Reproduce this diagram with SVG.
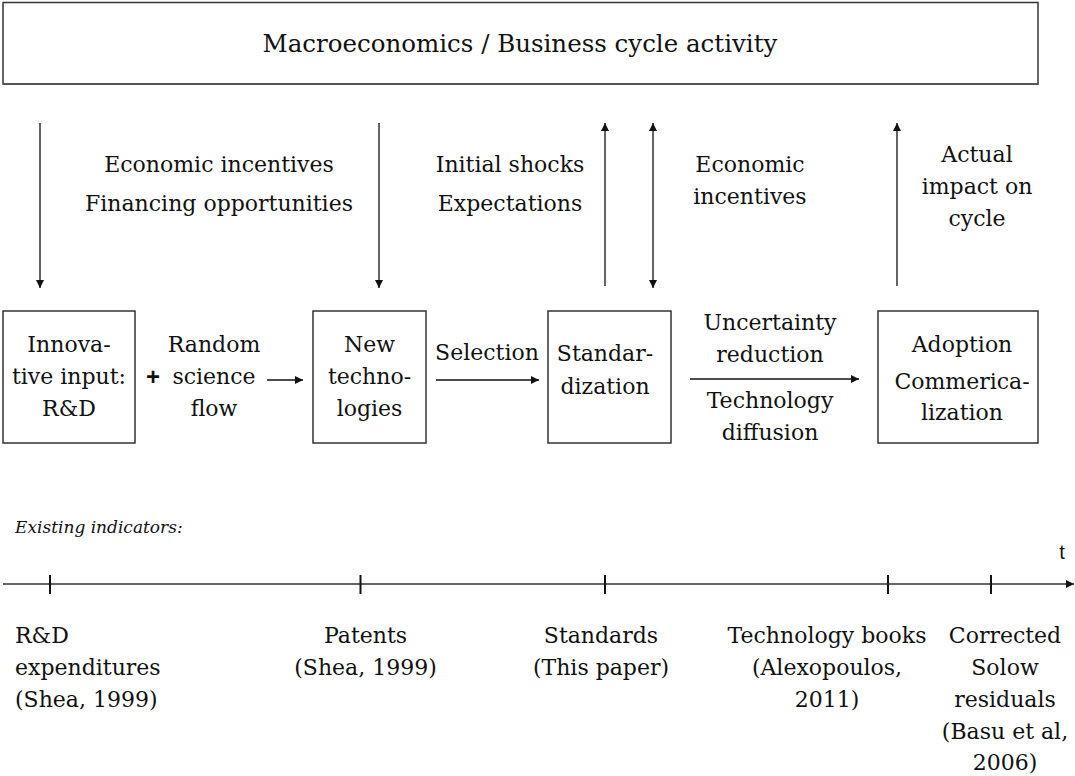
<svg xmlns="http://www.w3.org/2000/svg" width="1075" height="776" viewBox="0 0 1075 776">
<defs>
<style>
text{font-family:"DejaVu Serif","Liberation Serif",serif;font-size:22px;fill:#111;text-anchor:middle}
.t{font-size:24.5px}
.l{text-anchor:start}
.it{font-style:italic;font-size:17px;text-anchor:start}
.sans{font-family:"Liberation Sans",Arial,sans-serif}
.box{fill:#fff;stroke:#333;stroke-width:1.5}
.ln{stroke:#111;stroke-width:1.3;fill:none}
.tick{stroke:#111;stroke-width:2}
</style>
<marker id="ah" viewBox="0 0 10 10" refX="10" refY="5" markerWidth="8" markerHeight="8" markerUnits="userSpaceOnUse" orient="auto-start-reverse">
<path d="M0,0 L10,5 L0,10 z" fill="#111"/>
</marker>
</defs>
<rect width="1075" height="776" fill="#fff"/>
<g id="macro">
<rect class="box" x="3" y="2.5" width="1035" height="81.5"/>
<line x1="3" y1="84" x2="1038" y2="84" stroke="#555" stroke-width="2"/>
<text class="t" x="520" y="52">Macroeconomics / Business cycle activity</text>
</g>
<g id="rd">
<rect class="box" x="3" y="311" width="132" height="132"/>
<text x="69" y="352">Innova-</text>
<text x="69" y="384">tive input:</text>
<text x="69" y="416">R&amp;D</text>
</g>
<g id="science">
<text class="sans" x="153" y="385" style="font-weight:bold;font-size:24px">+</text>
<text x="214" y="352">Random</text>
<text x="214" y="384">science</text>
<text x="214" y="416">flow</text>
</g>
<g id="newtech">
<rect class="box" x="313" y="311" width="113" height="132"/>
<text x="369.5" y="352">New</text>
<text x="369.5" y="384">techno-</text>
<text x="369.5" y="416">logies</text>
</g>
<g id="standard">
<rect class="box" x="548" y="311" width="123" height="132"/>
<text x="605" y="361">Standar-</text>
<text x="605" y="394">dization</text>
</g>
<g id="adoption">
<rect class="box" x="878" y="311" width="160" height="132"/>
<text x="962" y="352">Adoption</text>
<text x="962" y="389">Commerica-</text>
<text x="962" y="420">lization</text>
</g>
<g id="labels">
<text x="219" y="172">Economic incentives</text>
<text x="219" y="211">Financing opportunities</text>
<text x="510" y="172">Initial shocks</text>
<text x="510" y="211">Expectations</text>
<text x="750" y="172">Economic</text>
<text x="750" y="204">incentives</text>
<text x="977" y="162">Actual</text>
<text x="977" y="194">impact on</text>
<text x="977" y="226">cycle</text>
<text x="487" y="360">Selection</text>
<text x="770" y="330">Uncertainty</text>
<text x="770" y="362">reduction</text>
<text x="770" y="408">Technology</text>
<text x="770" y="440">diffusion</text>
</g>
<g id="connectors">
<line class="ln" x1="40" y1="123" x2="40" y2="288" marker-end="url(#ah)"/>
<line class="ln" x1="379" y1="123" x2="379" y2="288" marker-end="url(#ah)"/>
<line class="ln" x1="605" y1="286" x2="605" y2="123" marker-end="url(#ah)"/>
<line class="ln" x1="653" y1="123" x2="653" y2="288" marker-start="url(#ah)" marker-end="url(#ah)"/>
<line class="ln" x1="897" y1="286" x2="897" y2="123" marker-end="url(#ah)"/>
<line class="ln" x1="267" y1="380" x2="303" y2="380" marker-end="url(#ah)"/>
<line class="ln" x1="436" y1="380" x2="539" y2="380" marker-end="url(#ah)"/>
<line class="ln" x1="690" y1="379" x2="859" y2="379" marker-end="url(#ah)"/>
</g>
<g id="timeline">
<text class="it" x="15" y="533">Existing indicators:</text>
<line class="ln" x1="3" y1="584" x2="1074" y2="584" marker-end="url(#ah)" style="stroke:#333;stroke-width:1.6"/>
<line class="tick" x1="50" y1="575" x2="50" y2="594"/>
<line class="tick" x1="360.5" y1="575" x2="360.5" y2="594"/>
<line class="tick" x1="605" y1="575" x2="605" y2="594"/>
<line class="tick" x1="888" y1="575" x2="888" y2="594"/>
<line class="tick" x1="991" y1="575" x2="991" y2="594"/>
<text class="sans" x="1062" y="559" style="font-size:20px">t</text>
<text class="l" x="15" y="643">R&amp;D</text>
<text class="l" x="15" y="675">expenditures</text>
<text class="l" x="15" y="707">(Shea, 1999)</text>
<text x="365.5" y="643">Patents</text>
<text x="365.5" y="675">(Shea, 1999)</text>
<text x="601" y="643">Standards</text>
<text x="601" y="675">(This paper)</text>
<text x="827" y="643">Technology books</text>
<text x="827" y="675">(Alexopoulos,</text>
<text x="827" y="707">2011)</text>
<text x="1005" y="643">Corrected</text>
<text x="1005" y="675">Solow</text>
<text x="1005" y="707">residuals</text>
<text x="1005" y="739">(Basu et al,</text>
<text x="1005" y="770">2006)</text>
</g>
</svg>
